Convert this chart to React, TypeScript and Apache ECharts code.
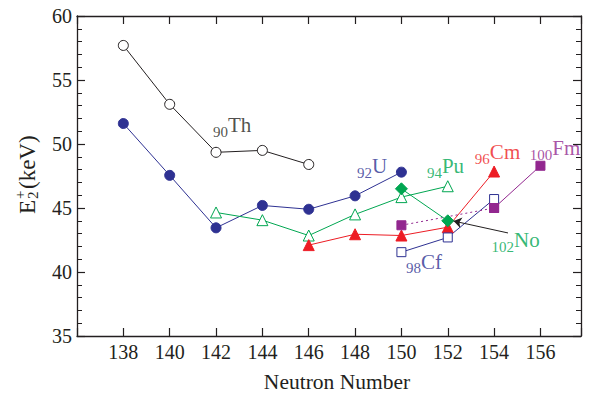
import React, { useEffect, useRef } from 'react';
import * as echarts from 'echarts';

// Neutron number tick labels
const xTickLabels = [138, 140, 142, 144, 146, 148, 150, 152, 154, 156];

// E2+ (keV) vs neutron number
const thorium: [number, number][] = [[138, 57.7], [140, 53.1], [142, 49.35], [144, 49.5], [146, 48.4]];
const uranium: [number, number][] = [[138, 51.6], [140, 47.55], [142, 43.45], [144, 45.2], [146, 44.9], [148, 45.95], [150, 47.8]];
const plutonium: [number, number][] = [[142, 44.65], [144, 44.05], [146, 42.85], [148, 44.5], [150, 45.85], [152, 46.7]];
const curium: [number, number][] = [[146, 42.1], [148, 42.95], [150, 42.85], [152, 43.5], [154, 47.85]];
const californium: [number, number][] = [[150, 41.55], [152, 42.7], [154, 45.7]];
const fermiumDotted: [number, number][] = [[150, 43.65], [154, 45.0]];
const fermiumSolid: [number, number][] = [[154, 45.0], [156, 48.3]];
const nobelium: [number, number][] = [[150, 46.5], [152, 44.0]];

// Element labels
const labelZ = ['90', '92', '94', '96', '98', '100', '102'];
const labelNames = ['Th', 'U', 'Pu', 'Cm', 'Cf', 'Fm', 'No'];
const labelAnchors: [number, number][] = [
  [141.87, 51.45], [148.08, 48.25], [151.1, 48.25], [153.17, 49.35],
  [150.2, 40.8], [155.54, 49.66], [153.89, 42.48],
];
const arrowCoords: [number, number][] = [[154.6, 43.05], [152.25, 43.98]];

const BLACK = '#231f20';
const BLUE = '#2e3192';
const GREEN = '#00a651';
const RED = '#ed1c24';
const PURPLE = '#92278f';
const labelColors = [BLACK, BLUE, GREEN, RED, BLUE, PURPLE, GREEN];
const FONT = "'Liberation Serif', 'Times New Roman', serif";

export default function App() {
  const ref = useRef<HTMLDivElement>(null);
  useEffect(() => {
    document.body.style.margin = '0';
    const chart = echarts.init(ref.current!, null, { renderer: 'svg' });
    const axisLine = { show: true, lineStyle: { color: BLACK, width: 1.3 } };
    const xCommon = {
      type: 'value' as const,
      min: 136,
      max: 157.75,
      interval: 2,
      splitLine: { show: false },
      axisLine,
      axisTick: { show: true, inside: true, length: 8, lineStyle: { color: BLACK, width: 1.2 } },
    };
    const yCommon = {
      type: 'value' as const,
      min: 35,
      max: 60,
      interval: 5,
      splitLine: { show: false },
      axisLine,
      axisTick: { show: true, inside: true, length: 8, lineStyle: { color: BLACK, width: 1.2 } },
      minorTick: { show: true, splitNumber: 5, length: 5, lineStyle: { color: BLACK, width: 1 } },
      minorSplitLine: { show: false },
    };
    const lineSeries = (data: [number, number][], color: string, symbol: string, filled: boolean, size: number, dotted = false) => ({
      type: 'line' as const,
      data,
      symbol,
      symbolSize: size,
      showAllSymbol: true,
      lineStyle: { color, width: 1, type: dotted ? ([2, 3] as any) : 'solid' },
      itemStyle: { color: filled ? color : '#ffffff', borderColor: color, borderWidth: 1 },
      z: 3,
    });
    chart.setOption({
      animation: false,
      grid: { left: 77, right: 9, top: 16, bottom: 57 },
      xAxis: [
        {
          ...xCommon,
          position: 'bottom',
          axisLabel: {
            show: true,
            margin: 6,
            color: BLACK,
            fontFamily: FONT,
            fontSize: 20,
            formatter: (v: number) => (xTickLabels.includes(v) ? String(v) : ''),
          },
        },
        { ...xCommon, position: 'top', axisLabel: { show: false } },
      ],
      yAxis: [
        {
          ...yCommon,
          position: 'left',
          axisLabel: { show: true, margin: 5, color: BLACK, fontFamily: FONT, fontSize: 20 },
        },
        { ...yCommon, position: 'right', axisLabel: { show: false } },
      ],
      series: [
        lineSeries(thorium, BLACK, 'circle', false, 10),
        lineSeries(uranium, BLUE, 'circle', true, 10),
        lineSeries(plutonium, GREEN, 'triangle', false, 11),
        lineSeries(curium, RED, 'triangle', true, 11),
        lineSeries(californium, BLUE, 'rect', false, 9),
        lineSeries(fermiumDotted, PURPLE, 'rect', true, 9, true),
        lineSeries(fermiumSolid, PURPLE, 'rect', true, 9),
        lineSeries(nobelium, GREEN, 'diamond', true, 12),
        {
          type: 'lines',
          coordinateSystem: 'cartesian2d',
          symbol: ['none', 'arrow'],
          symbolSize: 8,
          lineStyle: { color: BLACK, width: 1, opacity: 1 },
          data: [{ coords: arrowCoords }],
          z: 4,
        },
        {
          type: 'scatter',
          symbolSize: 0,
          itemStyle: { color: 'transparent' },
          z: 5,
          data: labelAnchors.map((p, i) => ({
            value: p,
            label: {
              show: true,
              position: 'right',
              distance: 0,
              formatter: `{s|${labelZ[i]}}{b|${labelNames[i]}}`,
              rich: {
                s: { fontSize: 15, fontFamily: FONT, color: labelColors[i], padding: [13, 0, 0, 0], verticalAlign: 'bottom' },
                b: { fontSize: 21, fontFamily: FONT, color: labelColors[i] },
              },
            },
          })),
        },
      ],
      graphic: [
        {
          type: 'text',
          x: 337,
          y: 381.5,
          style: { text: 'Neutron Number', font: `21.5px ${FONT}`, fill: BLACK, align: 'center', verticalAlign: 'middle' },
        },
        {
          type: 'group',
          x: 27,
          y: 214,
          rotation: Math.PI / 2,
          children: [
            { type: 'text', x: 0, y: 0, style: { text: 'E', font: `23px ${FONT}`, fill: BLACK, align: 'left', verticalAlign: 'middle' } },
            { type: 'text', x: 15, y: 6, style: { text: '2', font: `15px ${FONT}`, fill: BLACK, align: 'left', verticalAlign: 'middle' } },
            { type: 'text', x: 15, y: -7, style: { text: '+', font: `15px ${FONT}`, fill: BLACK, align: 'left', verticalAlign: 'middle' } },
            { type: 'text', x: 25, y: 0, style: { text: '(keV)', font: `23px ${FONT}`, fill: BLACK, align: 'left', verticalAlign: 'middle' } },
          ],
        },
      ],
    });
    return () => chart.dispose();
  }, []);
  return <div ref={ref} style={{ width: 590, height: 393 }} />;
}
